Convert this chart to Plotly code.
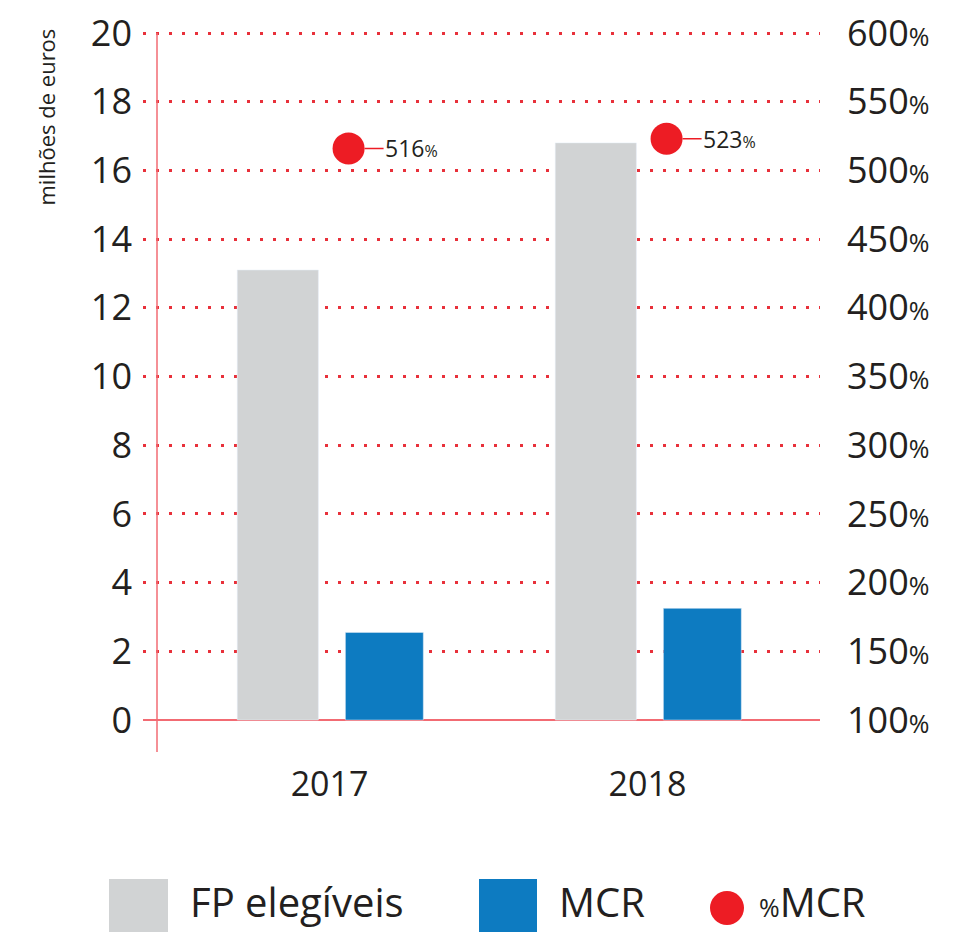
import plotly.graph_objects as go

# ---- data ----
years = [2017, 2018]
fp_elegiveis = [13.1, 16.8]      # milhões de euros
mcr = [2.55, 3.25]               # milhões de euros
pct_mcr = [516, 523]             # %
left_ticks = list(range(0, 21, 2))
right_ticks = list(range(100, 601, 50))

# ---- styles ----
W, H = 953, 932
L, T, PW, PH = 143, 31, 677, 721          # plot area in page pixels
R, B = W - L - PW, H - T - PH
UNIT = 34.35                              # px per left-axis unit
Y_LO, Y_HI = -32 / UNIT, 20 + 2 / UNIT
FONT = "Open Sans"
TXT = "#231f20"
GREY = "#d1d3d4"
BLUE = "#0d7bc1"
RED = "#ed1c24"
GRID = "#e8303a"
AXIS = "#f26b73"


def pxx(p):
    return (p - L) / PW


def pxy(p):
    return (T + PH - p) / PH


fig = go.Figure()
fig.add_trace(go.Bar(x=years, y=fp_elegiveis, name="FP elegíveis", marker_color=GREY,
                     width=0.255, offset=-0.29, hoverinfo="skip", showlegend=False))
fig.add_trace(go.Bar(x=years, y=mcr, name="MCR", marker_color=BLUE,
                     width=0.245, offset=0.05, hoverinfo="skip", showlegend=False))
MARK_OFF = 0.06
fig.add_trace(go.Scatter(x=[y + MARK_OFF for y in years], y=pct_mcr, name="%MCR", mode="markers",
                         marker=dict(color=RED, size=32, line=dict(width=0)),
                         yaxis="y2", hoverinfo="skip", showlegend=False))

annotations = []
for yr, v in zip(years, pct_mcr):
    annotations.append(dict(
        x=yr + MARK_OFF, y=v, xref="x", yref="y2",
        text=f"{v}<span style='font-size:16px'>%</span>",
        showarrow=True, arrowhead=0, arrowwidth=1.5, arrowcolor=RED,
        ax=63, ay=0, standoff=16, font=dict(family=FONT, size=23, color=TXT),
        xanchor="center", yanchor="middle"))

# y-axis title
annotations.append(dict(x=pxx(45), y=pxy(27), xref="paper", yref="paper",
                        text="milhões de euros", textangle=-90, showarrow=False,
                        xanchor="center", yanchor="top",
                        font=dict(family=FONT, size=22, color=TXT)))

# axis line and custom legend
shapes = []
shapes.append(dict(type="line", xref="paper", yref="paper", x0=pxx(157), x1=pxx(157),
                   y0=0, y1=pxy(33), line=dict(color=AXIS, width=1.5), layer="above"))
legend_items = [
    ("FP elegíveis", GREY, "rect", 109, 168, 188),
    ("MCR", BLUE, "rect", 479, 537, 557),
    ("<span style='font-size:25px'>%</span>MCR", RED, "circle", 710, 744, 757),
]
for label, col, kind, x0, x1, tx in legend_items:
    if kind == "rect":
        shapes.append(dict(type="rect", xref="paper", yref="paper", x0=pxx(x0), x1=pxx(x1),
                           y0=pxy(879), y1=pxy(940), fillcolor=col, line=dict(width=0)))
    else:
        shapes.append(dict(type="circle", xref="paper", yref="paper", x0=pxx(x0), x1=pxx(x1),
                           y0=pxy(891), y1=pxy(925), fillcolor=col, line=dict(width=0)))
    annotations.append(dict(x=pxx(tx), y=pxy(902), xref="paper", yref="paper", text=label,
                            showarrow=False, xanchor="left", yanchor="middle",
                            font=dict(family=FONT, size=40, color=TXT)))

fig.update_layout(
    width=W, height=H,
    margin=dict(l=L, r=R, t=T, b=B, autoexpand=False),
    paper_bgcolor="white", plot_bgcolor="white",
    showlegend=False,
    barmode="overlay",
    font=dict(family=FONT, color=TXT),
    xaxis=dict(range=[2016.4135, 2018.5425], tickvals=years, ticktext=[str(y) for y in years],
               showgrid=False, zeroline=False, showline=False, ticks="",
               tickfont=dict(family=FONT, size=34, color=TXT), ticklabelstandoff=9),
    yaxis=dict(range=[Y_LO, Y_HI], tickvals=left_ticks, showgrid=True, gridcolor=GRID,
               gridwidth=2.5, griddash="3px,10px", zeroline=True, zerolinecolor=AXIS,
               zerolinewidth=1.5, showline=False, ticks="", ticklabeloverflow="allow",
               tickfont=dict(family=FONT, size=36, color=TXT), ticklabelstandoff=10),
    yaxis2=dict(range=[100 + Y_LO * 25, 100 + Y_HI * 25], overlaying="y", side="right",
                tickvals=right_ticks,
                ticktext=[f"{t}<span style='font-size:25px'>%</span>" for t in right_ticks],
                showgrid=False, zeroline=False, showline=False, ticks="",
                ticklabeloverflow="allow",
                tickfont=dict(family=FONT, size=36, color=TXT), ticklabelstandoff=26),
    annotations=annotations,
    shapes=shapes,
)

fig.write_html("out.html", config={"displayModeBar": False},
               post_script="document.body.style.margin='0';document.body.style.overflow='hidden';")
